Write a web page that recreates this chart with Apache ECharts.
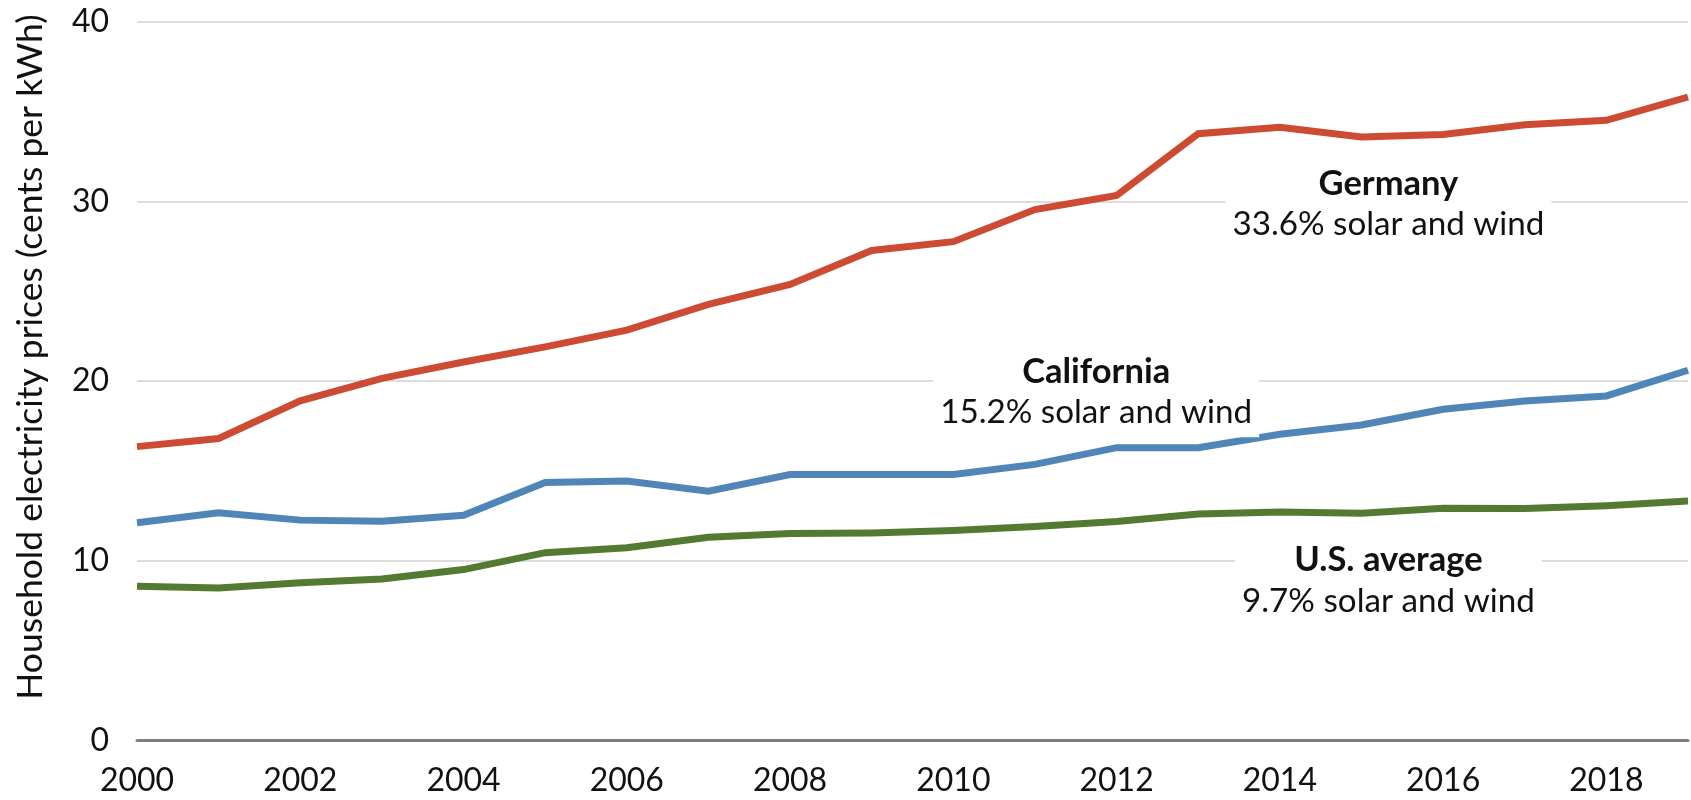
<!DOCTYPE html>
<html>
<head>
<meta charset="utf-8">
<script src="https://cdn.jsdelivr.net/npm/echarts@6/dist/echarts.min.js"></script>
<style>
  html, body { margin: 0; padding: 0; background: #fff; }
  #chart { width: 1691px; height: 800px; }
</style>
</head>
<body>
<div id="chart"></div>
<script>
// Household electricity prices, cents per kWh, 2000-2019
const years = [2000, 2001, 2002, 2003, 2004, 2005, 2006, 2007, 2008, 2009,
               2010, 2011, 2012, 2013, 2014, 2015, 2016, 2017, 2018, 2019];
const germany = [16.35, 16.8, 18.9, 20.15, 21.06, 21.9, 22.83, 24.26, 25.37, 27.26,
                 27.75, 29.54, 30.32, 33.76, 34.12, 33.58, 33.71, 34.26, 34.5, 35.8];
const california = [12.11, 12.67, 12.26, 12.2, 12.53, 14.36, 14.43, 13.87, 14.8, 14.8,
                    14.8, 15.36, 16.29, 16.29, 17.04, 17.55, 18.43, 18.89, 19.17, 20.6];
const usAverage = [8.58, 8.49, 8.77, 8.99, 9.51, 10.45, 10.72, 11.31, 11.51, 11.55,
                   11.68, 11.9, 12.18, 12.6, 12.71, 12.64, 12.92, 12.9, 13.06, 13.32];

const seriesNames = ['Germany', 'California', 'U.S. average'];
const solarWindShare = ['33.6% solar and wind', '15.2% solar and wind', '9.7% solar and wind'];
const yTicks = [0, 10, 20, 30, 40];
const yTitle = 'Household electricity prices (cents per kWh)';

// where each series' caption sits, in axis units [year, cents]
const captionAnchors = [[2015.33, 29.85], [2011.75, 19.38], [2015.33, 8.9]];

const colors = ['#cd4a33', '#4f86b7', '#537a30'];
const FONT = 'Lato, "Noto Sans", sans-serif';

function lineSeries(name, values, color) {
  return {
    name: name,
    type: 'line',
    data: years.map((y, i) => [y, values[i]]),
    symbol: 'none',
    lineStyle: { color: color, width: 7, cap: 'butt', join: 'miter' },
    z: 2,
    silent: true
  };
}

const chart = echarts.init(document.getElementById('chart'), null, { renderer: 'canvas' });

chart.setOption({
  animation: false,
  backgroundColor: '#ffffff',
  grid: { left: 137, right: -8, top: 21.5, bottom: 59.5, containLabel: false },
  // vertical axis title, reading bottom to top
  graphic: [{
    type: 'text',
    x: 31,
    y: 357,
    rotation: Math.PI / 2,
    silent: true,
    style: {
      text: yTitle,
      fontFamily: FONT,
      fontSize: 35.5,
      fill: '#111',
      align: 'center',
      verticalAlign: 'middle'
    }
  }],
  xAxis: {
    type: 'value',
    min: years[0],
    max: years[years.length - 1],
    interval: 2,
    z: 5,
    axisLine: { show: true, lineStyle: { color: '#7f7f7f', width: 3 } },
    axisTick: { show: false },
    splitLine: { show: false },
    axisLabel: {
      margin: 24,
      fontFamily: FONT,
      fontSize: 32,
      color: '#111',
      formatter: v => (v % 2 === 0 ? String(v) : '')
    }
  },
  yAxis: {
    type: 'value',
    min: yTicks[0],
    max: yTicks[yTicks.length - 1],
    interval: 10,
    axisLine: { show: false },
    axisTick: { show: false },
    splitLine: { show: true, lineStyle: { color: '#d0d0d0', width: 1.5 } },
    axisLabel: {
      margin: 28,
      fontFamily: FONT,
      fontSize: 32,
      color: '#111'
    }
  },
  series: [
    lineSeries(seriesNames[0], germany, colors[0]),
    lineSeries(seriesNames[1], california, colors[1]),
    lineSeries(seriesNames[2], usAverage, colors[2]),
    {
      type: 'scatter',
      symbolSize: 0,
      silent: true,
      z: 4,
      itemStyle: { opacity: 1 },
      data: captionAnchors.map((p, i) => ({ value: p, name: seriesNames[i], share: solarWindShare[i] })),
      label: {
        show: true,
        position: 'inside',
        align: 'center',
        verticalAlign: 'middle',
        color: '#111',
        backgroundColor: '#ffffff',
        padding: [4, 7],
        formatter: p => '{b|' + p.data.name + '}\n{r|' + p.data.share + '}',
        rich: {
          b: { fontFamily: FONT, fontWeight: 'bold', fontSize: 34.5, lineHeight: 41, color: '#111', align: 'center' },
          r: { fontFamily: FONT, fontSize: 33.2, lineHeight: 41, color: '#111', align: 'center' }
        }
      }
    }
  ]
});
</script>
</body>
</html>
